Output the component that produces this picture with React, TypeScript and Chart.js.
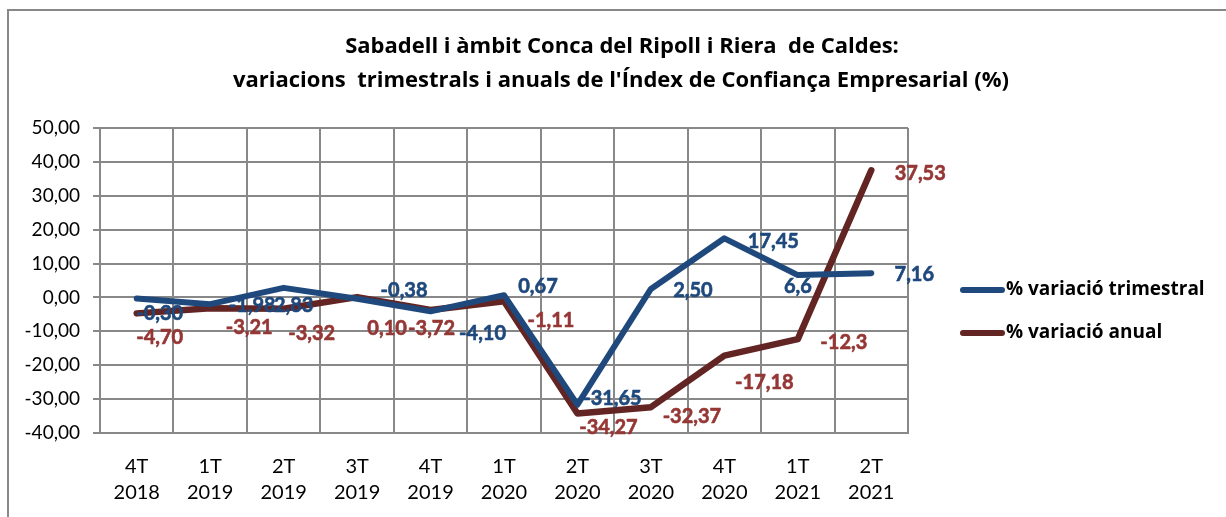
import React, { useEffect, useRef } from "react";
import { Chart, registerables } from "chart.js";

Chart.register(...registerables);

const quarters = ["4T", "1T", "2T", "3T", "4T", "1T", "2T", "3T", "4T", "1T", "2T"];
const years = ["2018", "2019", "2019", "2019", "2019", "2020", "2020", "2020", "2020", "2021", "2021"];

const trimestral = [-0.3, -1.98, 2.83, -0.38, -4.1, 0.67, -31.65, 2.5, 17.45, 6.6, 7.16];
const trimestralDecimals = [2, 2, 2, 2, 2, 2, 2, 2, 2, 1, 2];
const anual = [-4.7, -3.21, -3.32, 0.1, -3.72, -1.11, -34.27, -32.37, -17.18, -12.3, 37.53];
const anualDecimals = [2, 2, 2, 2, 2, 2, 2, 2, 2, 1, 2];

const seriesNames = ["% variació trimestral", "% variació anual"];
const titleLines = [
  "Sabadell i àmbit Conca del Ripoll i Riera  de Caldes:",
  "variacions  trimestrals i anuals de l'Índex de Confiança Empresarial (%)",
];

const yMin = -40;
const yMax = 50;
const yStep = 10;

// label offsets (dx, dy) relative to each point, in pixels
const trimestralLabelOffsets = [
  [23, 15], [42, 1], [10, 18], [47, -8], [52, 22], [34, -9], [35, -6], [42, 2], [49, 3], [0, 11], [43, 1],
];
const anualLabelOffsets = [
  [23, 24], [39, 19], [28, 25], [30, 31], [1, 18], [47, 19], [31, 14], [41, 9], [40, 27], [46, 3], [49, 3],
];

const BLUE = "#1F497D";
const RED_LINE = "#632523";
const RED_TEXT = "#953735";
const GRID = "#888888";
const FONT = "Lato, 'Open Sans', sans-serif";
const BOLD_FONT = "'Open Sans', Lato, sans-serif";

const fmt = (v: number, d: number) => v.toFixed(d).replace(".", ",");

export default function App() {
  const ref = useRef<HTMLCanvasElement | null>(null);

  useEffect(() => {
    const canvas = ref.current;
    if (!canvas) return;

    const framePlugin = {
      id: "frame",
      beforeDraw(chart: any) {
        const ctx = chart.ctx;
        ctx.save();
        ctx.fillStyle = "#ffffff";
        ctx.fillRect(0, 0, chart.width, chart.height);
        ctx.strokeStyle = GRID;
        ctx.lineWidth = 2;
        ctx.beginPath();
        ctx.moveTo(8, chart.height + 5);
        ctx.lineTo(8, 10);
        ctx.lineTo(chart.width + 5, 10);
        ctx.stroke();
        ctx.restore();
      },
    };

    const titlePlugin = {
      id: "customTitle",
      afterDraw(chart: any) {
        const ctx = chart.ctx;
        ctx.save();
        ctx.fillStyle = "#000000";
        ctx.font = `bold 22px ${BOLD_FONT}`;
        ctx.textAlign = "center";
        ctx.textBaseline = "middle";
        ctx.fillText(titleLines[0], 622, 47);
        ctx.fillText(titleLines[1], 621, 81);
        ctx.restore();
      },
    };

    const legendPlugin = {
      id: "customLegend",
      afterDraw(chart: any) {
        const ctx = chart.ctx;
        const items = [
          { name: seriesNames[0], color: BLUE, y: 290 },
          { name: seriesNames[1], color: RED_LINE, y: 333 },
        ];
        ctx.save();
        for (const it of items) {
          ctx.strokeStyle = it.color;
          ctx.lineWidth = 6;
          ctx.lineCap = "round";
          ctx.beginPath();
          ctx.moveTo(963, it.y);
          ctx.lineTo(1002, it.y);
          ctx.stroke();
          ctx.fillStyle = "#000000";
          ctx.font = `bold 19px ${BOLD_FONT}`;
          ctx.textAlign = "left";
          ctx.textBaseline = "middle";
          ctx.fillText(it.name, 1006, it.y);
        }
        ctx.restore();
      },
    };

    const labelsPlugin = {
      id: "pointLabels",
      afterDatasetsDraw(chart: any) {
        const ctx = chart.ctx;
        const cfg = [
          { values: trimestral, dec: trimestralDecimals, off: trimestralLabelOffsets, color: BLUE },
          { values: anual, dec: anualDecimals, off: anualLabelOffsets, color: RED_TEXT },
        ];
        ctx.save();
        ctx.font = `bold 20px ${FONT}`;
        ctx.textAlign = "center";
        ctx.textBaseline = "middle";
        cfg.forEach((c, di) => {
          const meta = chart.getDatasetMeta(di);
          ctx.fillStyle = c.color;
          ctx.strokeStyle = c.color;
          ctx.lineWidth = 0.6;
          meta.data.forEach((el: any, i: number) => {
            const t = fmt(c.values[i], c.dec[i]);
            const x = el.x + c.off[i][0];
            const y = el.y + c.off[i][1];
            ctx.fillText(t, x, y);
            ctx.strokeText(t, x, y);
          });
        });
        ctx.restore();
      },
    };

    const chart = new Chart(canvas, {
      type: "line",
      data: {
        labels: quarters.map((q, i) => [q, years[i]]),
        datasets: [
          {
            label: seriesNames[0],
            data: trimestral,
            borderColor: BLUE,
            backgroundColor: BLUE,
            borderWidth: 6,
            pointRadius: 0,
            tension: 0,
            borderCapStyle: "round",
            borderJoinStyle: "round",
          },
          {
            label: seriesNames[1],
            data: anual,
            borderColor: RED_LINE,
            backgroundColor: RED_LINE,
            borderWidth: 6.5,
            pointRadius: 0,
            tension: 0,
            borderCapStyle: "round",
            borderJoinStyle: "round",
          },
        ],
      },
      options: {
        responsive: false,
        animation: false,
        events: [],
        layout: { padding: { left: 0, top: 128, right: 318, bottom: 0 } },
        plugins: {
          legend: { display: false },
          title: { display: false },
          tooltip: { enabled: false },
        },
        scales: {
          x: {
            offset: true,
            grid: { color: GRID, lineWidth: 2, drawTicks: false, offset: true },
            border: { color: GRID, width: 2 },
            ticks: {
              color: "#000000",
              font: { family: FONT, size: 20, lineHeight: 1.3 },
              padding: 21,
              maxRotation: 0,
              autoSkip: false,
            },
            afterFit(scale: any) {
              scale.height = 84;
            },
          },
          y: {
            min: yMin,
            max: yMax,
            grid: { color: GRID, lineWidth: 2, tickLength: 7 },
            border: { color: GRID, width: 2 },
            ticks: {
              stepSize: yStep,
              color: "#000000",
              font: { family: FONT, size: 19 },
              padding: 13,
              callback: (v: any) => fmt(Number(v), 2),
            },
            afterFit(scale: any) {
              scale.width = 100;
            },
          },
        },
      },
      plugins: [framePlugin, titlePlugin, legendPlugin, labelsPlugin],
    } as any);

    return () => chart.destroy();
  }, []);

  return (
    <div style={{ position: "absolute", left: 0, top: 0, width: 1226, height: 517 }}>
      <canvas ref={ref} width={1226} height={517} style={{ display: "block" }} />
    </div>
  );
}
